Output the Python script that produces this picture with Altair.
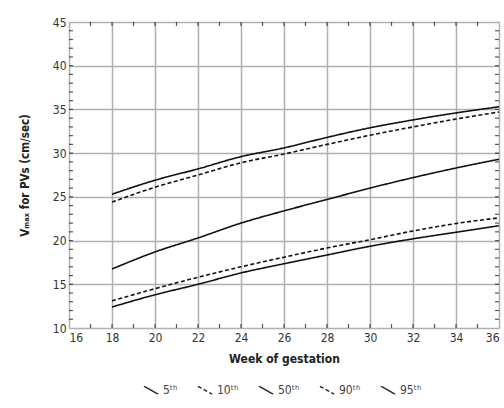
import altair as alt
import pandas as pd

weeks = [18, 20, 22, 24, 26, 28, 30, 32, 34, 36]
p5 = [12.4, 13.8, 15.0, 16.3, 17.35, 18.35, 19.35, 20.2, 20.95, 21.7]
p10 = [13.1, 14.5, 15.8, 17.0, 18.1, 19.15, 20.1, 21.1, 21.95, 22.6]
p50 = [16.75, 18.7, 20.3, 22.0, 23.4, 24.7, 26.0, 27.2, 28.3, 29.3]
p90 = [24.4, 26.1, 27.5, 28.9, 29.9, 31.0, 32.05, 33.0, 33.9, 34.7]
p95 = [25.3, 26.9, 28.2, 29.6, 30.6, 31.8, 32.9, 33.8, 34.6, 35.3]

labels = ["5ᵗʰ", "10ᵗʰ", "50ᵗʰ", "90ᵗʰ", "95ᵗʰ"]
series = [p5, p10, p50, p90, p95]
dashes = [[1, 0], [4, 2.5], [1, 0], [4, 2.5], [1, 0]]

x_ticks = [16, 18, 20, 22, 24, 26, 28, 30, 32, 34, 36]
y_ticks = [10, 15, 20, 25, 30, 35, 40, 45]
x_minor = list(range(17, 36))
y_minor = list(range(11, 45))

rows = []
for lab, vals in zip(labels, series):
    for w, v in zip(weeks, vals):
        rows.append({"week": w, "value": v, "pct": lab})
df = pd.DataFrame(rows)

FONT = "DejaVu Sans Condensed"
W, H = 430, 306

xs = alt.Scale(domain=[16, 36], nice=False, zero=False)
ys = alt.Scale(domain=[10, 45], nice=False, zero=False)

lines = alt.Chart(df).mark_line(color="#111", strokeWidth=1.6, interpolate="monotone").encode(
    x=alt.X("week:Q", scale=xs,
            axis=alt.Axis(values=x_ticks, title="Week of gestation", grid=True,
                          gridColor="#b0b0b0", gridWidth=1.5, domain=False,
                          ticks=False, labelPadding=4, labelFont=FONT,
                          labelFontSize=12, labelColor="#333",
                          titleFont=FONT, titleFontSize=12, titleFontWeight="bold",
                          titleColor="#222", titlePadding=10)),
    y=alt.Y("value:Q", scale=ys,
            axis=alt.Axis(values=y_ticks, title="Vₘₐₓ for PVs (cm/sec)", grid=True,
                          gridColor="#b0b0b0", gridWidth=1.5, domain=False,
                          ticks=False, labelPadding=3, labelFont=FONT,
                          labelFontSize=12, labelColor="#333",
                          titleFont=FONT, titleFontSize=11.5, titleFontWeight="bold",
                          titleColor="#222", titlePadding=22)),
    strokeDash=alt.StrokeDash("pct:N",
                              scale=alt.Scale(domain=labels, range=dashes),
                              legend=alt.Legend(title=None, orient="none",
                                                legendX=74, legendY=360,
                                                direction="horizontal",
                                                columns=5, columnPadding=17,
                                                symbolType="M-1,-0.55L1,0.55",
                                                symbolSize=200,
                                                symbolStrokeWidth=1.4,
                                                symbolStrokeColor="#222",
                                                labelFont=FONT, labelFontSize=12,
                                                labelColor="#444", labelOffset=4)),
    detail="pct:N",
)

minor_y = pd.DataFrame({"v": y_minor})
minor_x = pd.DataFrame({"w": x_minor})

tk = dict(size=8, thickness=1.2, color="#111", clip=True)
tick_left = alt.Chart(minor_y).mark_tick(orient="horizontal", **tk).encode(
    y=alt.Y("v:Q", scale=ys), x=alt.value(0))
tick_right = alt.Chart(minor_y).mark_tick(orient="horizontal", **tk).encode(
    y=alt.Y("v:Q", scale=ys), x=alt.value(W))
tick_bottom = alt.Chart(minor_x).mark_tick(orient="vertical", **tk).encode(
    x=alt.X("w:Q", scale=xs), y=alt.value(H))
tick_top = alt.Chart(minor_x).mark_tick(orient="vertical", **tk).encode(
    x=alt.X("w:Q", scale=xs), y=alt.value(0))

chart = alt.layer(lines, tick_left, tick_right, tick_bottom, tick_top).properties(
    width=W, height=H,
    autosize=alt.AutoSizeParams(type="none"),
    padding={"left": 69, "top": 22, "right": 5, "bottom": 80},
).configure_view(stroke="#111", strokeWidth=2.2).configure(background="white")

chart.save("out.html", embed_options={"renderer": "svg", "actions": False})
